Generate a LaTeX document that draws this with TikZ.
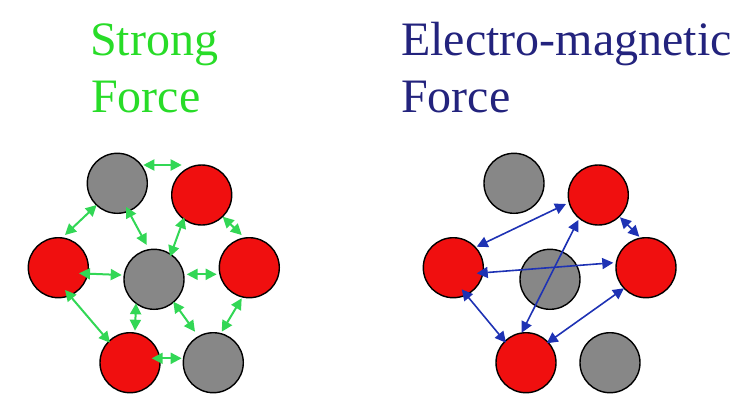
\documentclass[tikz,border=0pt]{standalone}
\usepackage{fontspec}
\setmainfont{Liberation Serif}
\usetikzlibrary{arrows.meta}
\definecolor{ggreen}{RGB}{50,215,85}
\definecolor{tgreen}{RGB}{40,220,40}
\definecolor{bblue}{RGB}{30,50,180}
\definecolor{tblue}{RGB}{35,35,125}
\definecolor{nred}{RGB}{240,15,15}
\definecolor{ngray}{RGB}{135,135,135}
\tikzset{
  ball/.style={circle,draw=black,line width=1.4pt,minimum size=60pt,inner sep=0pt},
  redball/.style={ball,fill=nred},
  grayball/.style={ball,fill=ngray},
  garrow/.style={draw=ggreen,line width=2pt,{Triangle[length=11pt,width=11pt]}-{Triangle[length=11pt,width=11pt]}},
  barrow/.style={draw=bblue,line width=1.6pt,{Triangle[length=11pt,width=11pt]}-{Triangle[length=11pt,width=11pt]}},
  title/.style={font=\fontsize{48}{48}\selectfont,anchor=base west,inner sep=0pt}
}
\begin{document}
\begin{tikzpicture}[x=1pt,y=-1pt]
\useasboundingbox (0,0) rectangle (750,416);
% titles
\node[title,text=tgreen] (s1) at (90,55) {Strong};
\node[title,text=tgreen] (s2) at (91,112) {Force};
\node[title,text=tblue] (e1) at (401,55) {Electro-magnetic};
\node[title,text=tblue] (e2) at (401,112) {Force};
% left nucleus
\node[grayball] (Lgt) at (117.3,183.3) {};
\node[redball]  (Lrt) at (201.7,195) {};
\node[redball]  (Lrl) at (58.3,267.7) {};
\node[grayball] (Lgc) at (154,279.3) {};
\node[redball]  (Lrr) at (249.3,267.7) {};
\node[redball]  (Lrb) at (130,362.7) {};
\node[grayball] (Lgb) at (213.3,362.7) {};
% green arrows
\draw[garrow] ([shift={(26,-18.3)}]Lgt.center) -- ([shift={(-20,-30)}]Lrt.center);
\draw[garrow] ([shift={(-20.6,21.7)}]Lgt.center) -- ([shift={(6.7,-32.7)}]Lrl.center);
\draw[garrow] ([shift={(8.7,23.4)}]Lgt.center) -- ([shift={(-7.3,-34.3)}]Lgc.center);
\draw[garrow] ([shift={(-17.4,22.3)}]Lrt.center) -- ([shift={(16,-22.6)}]Lgc.center);
\draw[garrow] ([shift={(21,21.7)}]Lrt.center) -- ([shift={(-7.6,-32.7)}]Lrr.center);
\draw[garrow] ([shift={(20.7,5.6)}]Lrl.center) -- ([shift={(-32.3,-4.3)}]Lgc.center);
\draw[garrow] ([shift={(32.7,-5)}]Lgc.center) -- ([shift={(-32.6,6.6)}]Lrr.center);
\draw[garrow] ([shift={(6.7,22.3)}]Lrl.center) -- ([shift={(-20,-20)}]Lrb.center);
\draw[garrow] ([shift={(-18,24)}]Lgc.center) -- ([shift={(5,-32)}]Lrb.center);
\draw[garrow] ([shift={(19.3,22.4)}]Lgc.center) -- ([shift={(-18.3,-31)}]Lgb.center);
\draw[garrow] ([shift={(-7.6,30.6)}]Lrr.center) -- ([shift={(8.4,-31)}]Lgb.center);
\draw[garrow] ([shift={(21.7,-4.4)}]Lrb.center) -- ([shift={(-31.6,-4.4)}]Lgb.center);
% right nucleus
\node[grayball] (Rgt) at (514,183.3) {};
\node[redball]  (Rrt) at (598.3,195) {};
\node[redball]  (Rrl) at (453.3,267.7) {};
\node[grayball] (Rgc) at (550,279.3) {};
\node[redball]  (Rrr) at (646,267.7) {};
\node[redball]  (Rrb) at (526,362.7) {};
\node[grayball] (Rgb) at (610,362.7) {};
% blue arrows
\draw[barrow] ([shift={(23.4,-21)}]Rrl.center) -- ([shift={(-32.3,9)}]Rrt.center);
\draw[barrow] ([shift={(21.7,22.3)}]Rrt.center) -- ([shift={(-6.7,-31)}]Rrr.center);
\draw[barrow] ([shift={(23.4,5.6)}]Rrl.center) -- ([shift={(-32.7,-5)}]Rrr.center);
\draw[barrow] ([shift={(-20,25)}]Rrt.center) -- ([shift={(-4.3,-30)}]Rrb.center);
\draw[barrow] ([shift={(8.4,21.6)}]Rrl.center) -- ([shift={(-20,-20)}]Rrb.center);
\draw[barrow] ([shift={(-22,20.6)}]Rrr.center) -- ([shift={(20.7,-19.4)}]Rrb.center);
\end{tikzpicture}
\end{document}
